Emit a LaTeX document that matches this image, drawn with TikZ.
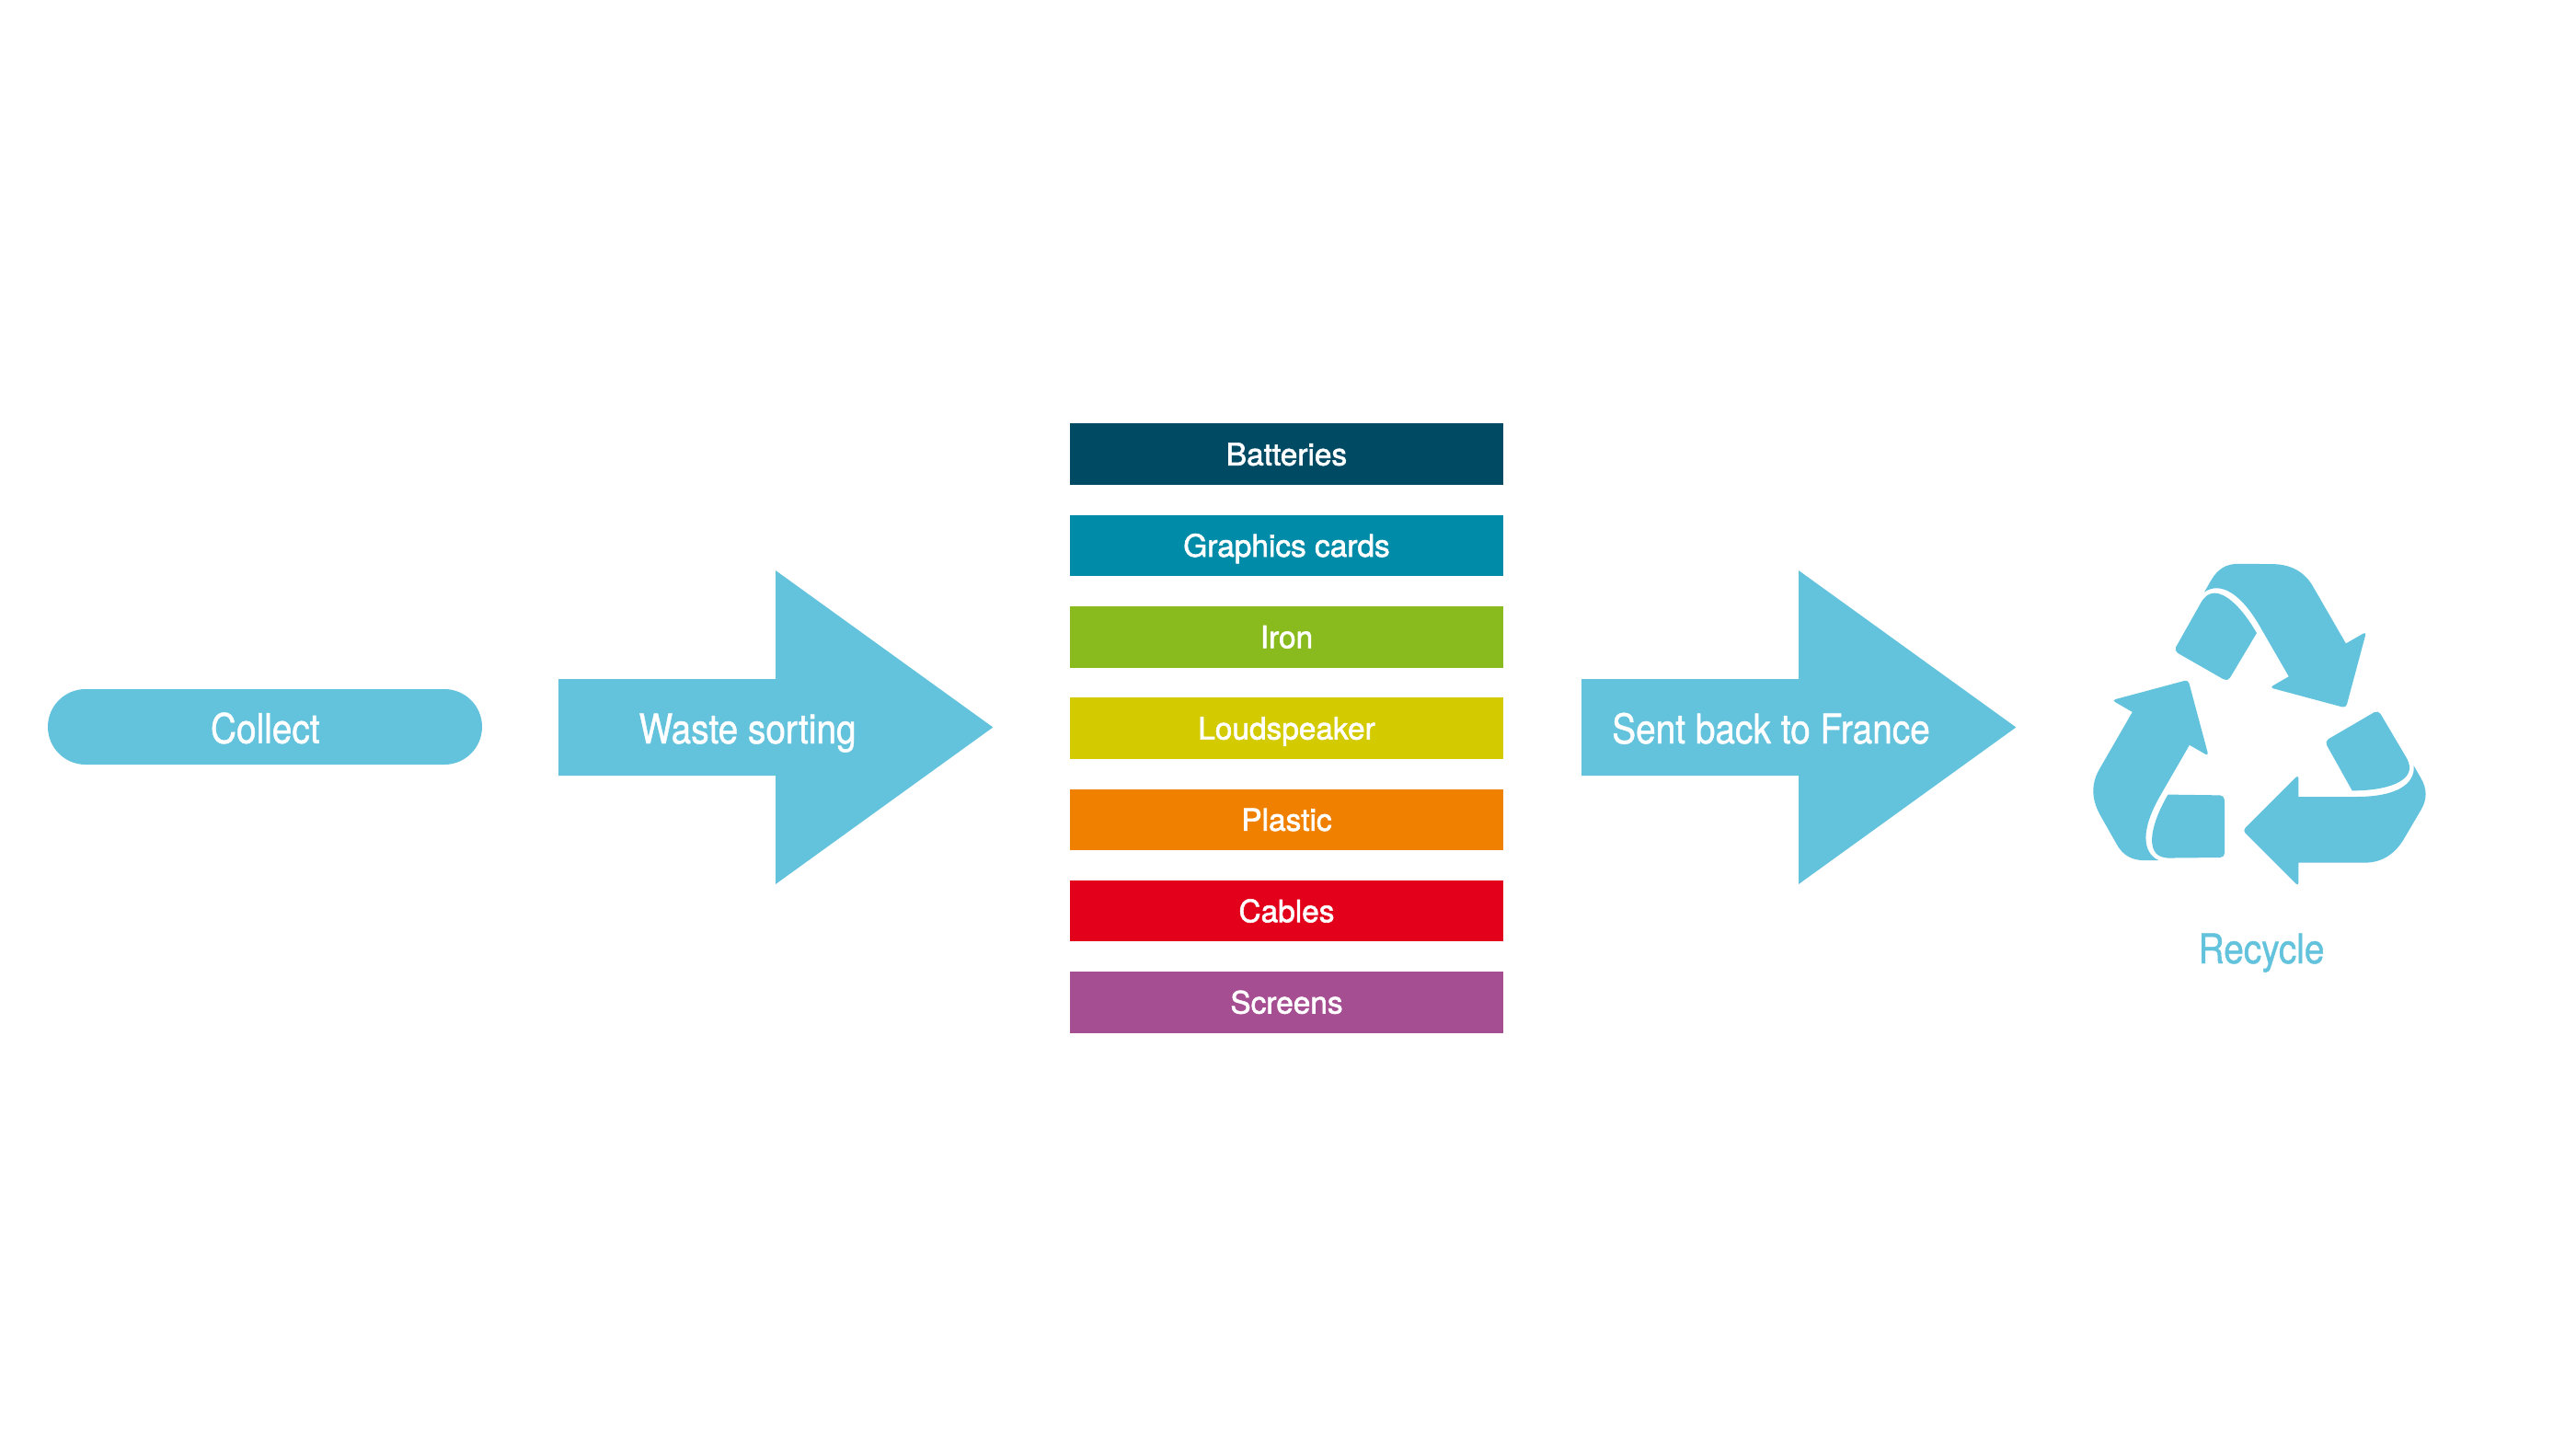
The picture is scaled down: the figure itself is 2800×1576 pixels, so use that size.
\documentclass[tikz,border=0pt]{standalone}
\usepackage{fontspec}
\setmainfont{TeX Gyre Heros}
\newfontfamily\condfont[FakeStretch=0.87,FakeBold=1]{TeX Gyre Heros}
\newfontfamily\barfont[FakeBold=1.8]{TeX Gyre Heros}
\definecolor{lblue}{RGB}{99,195,221}
\definecolor{cbatt}{RGB}{0,74,99}
\definecolor{cgraph}{RGB}{0,140,168}
\definecolor{ciron}{RGB}{138,187,30}
\definecolor{cloud}{RGB}{211,202,0}
\definecolor{cplast}{RGB}{239,128,0}
\definecolor{ccabl}{RGB}{227,0,27}
\definecolor{cscreen}{RGB}{166,78,146}
\newcommand\recyclearm{%
  \fill[lblue] (745,858) -- (935,858) .. controls (1062,858) and (1126,818) .. (1121,757)
    -- (1143,795) .. controls (1165,832) and (1165,866) .. (1145,900)
    -- (1092,990) .. controls (1064,1040) and (1022,1073) .. (960,1073)
    -- (745,1073) [rounded corners=4pt] -- (745,1150) -- (563,968) -- (745,786) [sharp corners] -- (745,858) -- cycle;
  \fill[lblue] (920,838) [rounded corners=5pt] -- (830,677) -- (1005,575) -- (1106,746) [sharp corners]
    .. controls (1110,806) and (1040,838) .. (920,838) -- cycle;
}
\begin{document}
\begin{tikzpicture}[x=1pt,y=-1pt,
  biglabel/.style={text=white, font=\condfont\fontsize{44.6}{50}\selectfont, anchor=base, inner sep=0pt},
  bar/.style={minimum width=471pt, minimum height=66.5pt, inner sep=0pt, text=white,
    text height=24pt, text depth=0pt, font=\barfont\fontsize{33.4}{38}\selectfont},
  flowarrow/.style={fill=lblue}]
\useasboundingbox (0,0) rectangle (2800,1576);
\fill[white] (0,0) rectangle (2800,1576);
% Collect pill
\node[fill=lblue, rounded corners=41pt, minimum width=472pt, minimum height=82pt, inner sep=0pt] (collectbox) at (288,790) {};
\node[biglabel] (collect) at (288.3,807.7) {Collect};
% Waste sorting arrow
\fill[flowarrow] (607,738) -- (843,738) -- (843,620) -- (1079.3,790.5) -- (843,961) -- (843,843) -- (607,843) -- cycle;
\node[biglabel] (waste) at (812.6,808) {Waste sorting};
% Sent back arrow
\fill[flowarrow] (1719,738) -- (1955,738) -- (1955,620) -- (2191.3,790.5) -- (1955,961) -- (1955,843) -- (1719,843) -- cycle;
\node[biglabel] (sent) at (1925,808) {Sent back to France};
% Bars
\node[bar, fill=cbatt] (batteries) at (1398.5,493.7) {Batteries};
\node[bar, fill=cgraph] (graphics) at (1398.5,593.0) {Graphics cards};
\node[bar, fill=ciron] (iron) at (1398.5,692.3) {Iron};
\node[bar, fill=cloud] (loud) at (1398.5,791.6) {Loudspeaker};
\node[bar, fill=cplast] (plastic) at (1398.5,890.9) {Plastic};
\node[bar, fill=ccabl] (cables) at (1398.5,990.2) {Cables};
\node[bar, fill=cscreen] (screens) at (1398.5,1089.5) {Screens};
% Recycle symbol
\begin{scope}[shift={(2250,580)}, scale=1/3]
  \foreach \a in {0,120,240}{
    \begin{scope}[rotate around={\a:(616,671)}]
      \recyclearm
    \end{scope}
  }
\end{scope}
\node[biglabel, text=lblue] (recycle) at (2458,1047) {Recycle};
\end{tikzpicture}
\end{document}
